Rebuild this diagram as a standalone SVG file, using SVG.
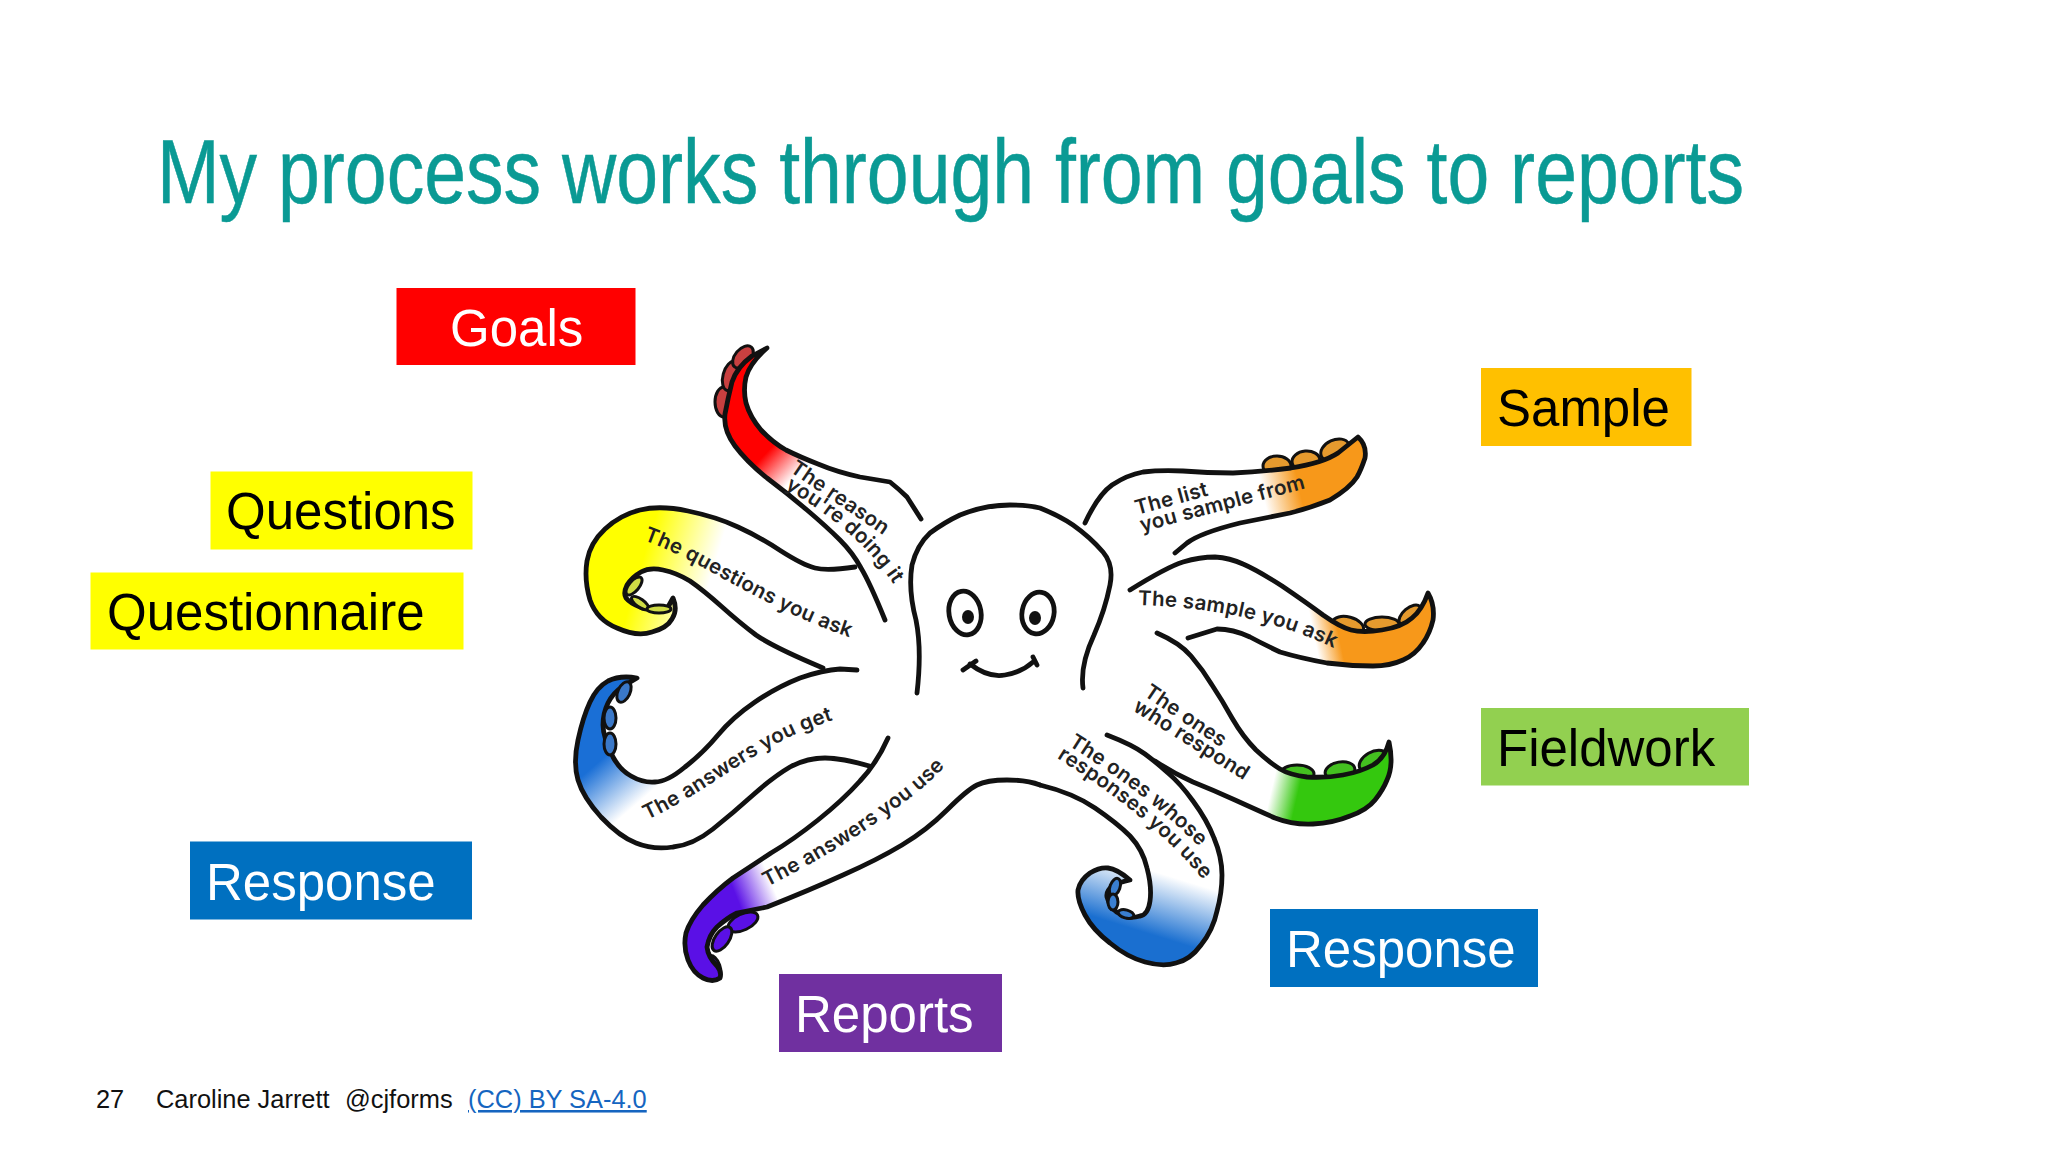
<svg xmlns="http://www.w3.org/2000/svg" width="2048" height="1152" viewBox="0 0 2048 1152">
<style>
.line{stroke:#111;stroke-width:4.8;stroke-linecap:round;stroke-linejoin:round}
.sk{stroke:#111;stroke-width:3}
.t{font-family:"Inter","Open Sans",sans-serif;font-weight:600;font-size:20.5px;letter-spacing:.3px;fill:#222}
.lb{font-family:"Liberation Sans",Arial,sans-serif;font-size:51px}
.w{fill:#fff}.k{fill:#000}
.ft{font-family:"Liberation Sans",Arial,sans-serif;font-size:25.4px;fill:#111}
</style>
<defs>
<linearGradient id="gr" gradientUnits="userSpaceOnUse" x1="758" y1="448" x2="792" y2="480"><stop offset=".2" stop-color="#f00"/><stop offset="1" stop-color="#fff"/></linearGradient>
<linearGradient id="gy" gradientUnits="userSpaceOnUse" x1="650" y1="535" x2="718" y2="555"><stop offset="0" stop-color="#ff0"/><stop offset="1" stop-color="#fff"/></linearGradient>
<linearGradient id="gb1" gradientUnits="userSpaceOnUse" x1="595" y1="765" x2="632" y2="808"><stop offset="0" stop-color="#1a6fd6"/><stop offset="1" stop-color="#fff"/></linearGradient>
<linearGradient id="gp" gradientUnits="userSpaceOnUse" x1="733" y1="900" x2="772" y2="884"><stop offset=".1" stop-color="#5a10e6"/><stop offset="1" stop-color="#fff"/></linearGradient>
<linearGradient id="gb2" gradientUnits="userSpaceOnUse" x1="1162" y1="945" x2="1182" y2="880"><stop offset=".1" stop-color="#1a6fd0"/><stop offset="1" stop-color="#fff"/></linearGradient>
<linearGradient id="gg" gradientUnits="userSpaceOnUse" x1="1270" y1="796" x2="1296" y2="802"><stop offset="0" stop-color="#fff"/><stop offset="1" stop-color="#34c80e"/></linearGradient>
<linearGradient id="go1" gradientUnits="userSpaceOnUse" x1="1262" y1="490" x2="1298" y2="482"><stop offset="0" stop-color="#fff"/><stop offset="1" stop-color="#f7981a"/></linearGradient>
<linearGradient id="go2" gradientUnits="userSpaceOnUse" x1="1318" y1="655" x2="1342" y2="650"><stop offset="0" stop-color="#fff"/><stop offset="1" stop-color="#f7981a"/></linearGradient>
<path id="p1" d="M789,471 L905,550"/>
<path id="p2" d="M785,488 C820,510 860,535 892,582 L905,602"/>
<path id="p3" d="M643,540 C680,553 710,572 733,584 C770,604 810,625 855,639 L890,648"/>
<path id="p4" d="M1137,515 L1240,487"/>
<path id="p5" d="M1142,532 L1340,479"/>
<path id="p6" d="M1138,605 C1190,607 1260,612 1345,653 L1375,670"/>
<path id="p7" d="M1143,695 L1245,764"/>
<path id="p8" d="M1132,710 L1275,800"/>
<path id="p9" d="M1068,745 C1115,775 1165,810 1208,856 L1230,880"/>
<path id="p10" d="M1057,758 C1095,782 1160,825 1210,888 L1230,914"/>
<path id="p11" d="M647,820 C690,800 730,770 760,753 C785,738 810,727 840,718 L870,710"/>
<path id="p12" d="M767,887 C810,865 850,842 880,820 C905,802 930,785 952,758 L972,733"/>
</defs>
<rect width="2048" height="1152" fill="#fff"/>
<text x="157" y="203" font-family="'Liberation Sans',Arial,sans-serif" font-size="90" fill="#0a9a94" stroke="#0a9a94" stroke-width=".5" textLength="1587" lengthAdjust="spacingAndGlyphs">My process works through from goals to reports</text>
<g id="octopus">
<g id="tentacle-goals">
<ellipse class="sk" cx="724" cy="402" rx="9" ry="15" fill="#c84040"/><ellipse class="sk" cx="731" cy="376" rx="8" ry="15" transform="rotate(15 731 376)" fill="#c84040"/><ellipse class="sk" cx="743" cy="357" rx="8" ry="13" transform="rotate(40 743 357)" fill="#c84040"/>
<path class="line" fill="url(#gr)" d="M885,620 Q870,583 861,568 Q853,553 840,540 Q827,527 807,510 Q787,493 767,478 Q747,462 735,446 Q723,430 725,414 Q728,398 732,382 Q737,367 752,356 L767,348 Q750,363 746,377 Q743,390 746,403 Q750,417 761,430 Q773,443 786,450 Q800,457 818,464 Q837,472 860,477 L890,482 Q900,490 907,497 L921,519"/>
</g>
<g id="tentacle-questions">
<path class="line" fill="url(#gy)" d="M855,567 Q827,571 815,568 Q803,565 781,551 Q760,537 738,527 Q717,517 688,511 Q660,505 640,510 Q620,515 605,529 Q590,543 587,561 Q584,580 590,600 Q597,620 617,628 Q637,637 652,632 Q667,628 672,619 Q678,610 673,598 L668,607 Q650,612 640,607 Q630,603 626,598 Q623,593 627,585 Q632,577 641,572 Q650,567 663,570 Q677,573 690,581 Q703,590 721,606 Q740,623 756,635 Q773,647 823,668"/>
<ellipse class="sk" cx="634" cy="586" rx="11" ry="5" transform="rotate(-50 634 586)" fill="#cfdc45"/><ellipse class="sk" cx="640" cy="603" rx="10" ry="4" transform="rotate(35 640 603)" fill="#cfdc45"/><ellipse class="sk" cx="659" cy="609" rx="12" ry="4" fill="#cfdc45"/>
</g>
<g id="tentacle-response-left">
<path class="line" fill="url(#gb1)" d="M857,670 L840,669 Q823,670 800,678 Q777,687 755,702 Q733,717 718,735 Q703,753 685,767 Q667,782 655,782 Q643,783 631,776 Q620,770 613,757 Q603,737 603,725 Q603,713 608,703 Q613,693 622,687 L637,678 Q620,675 608,681 Q597,687 590,702 Q583,717 578,740 Q573,763 578,780 Q583,797 601,817 Q620,837 636,843 Q653,850 673,847 Q693,845 713,829 Q733,813 753,795 Q773,777 790,767 Q807,758 825,758 Q843,758 876,768"/>
<ellipse class="sk" cx="610" cy="744" rx="6" ry="11" fill="#3a78c8"/><ellipse class="sk" cx="610" cy="718" rx="6" ry="11" fill="#3a78c8"/><ellipse class="sk" cx="624" cy="692" rx="6" ry="11" transform="rotate(25 624 692)" fill="#3a78c8"/>
</g>
<g id="tentacle-reports">
<ellipse class="sk" cx="743" cy="922" rx="16" ry="8" transform="rotate(-25 743 922)" fill="#5a10e6"/><ellipse class="sk" cx="722" cy="939" rx="14" ry="7" transform="rotate(-55 722 939)" fill="#5a10e6"/><ellipse class="sk" cx="714" cy="967" rx="12" ry="6" transform="rotate(70 714 967)" fill="#5a10e6"/>
<path class="line" fill="url(#gp)" d="M888,738 Q877,763 860,781 Q843,800 818,820 Q793,840 771,853 Q750,867 733,878 Q717,890 703,905 Q690,920 686,933 Q683,947 688,960 Q693,973 703,978 Q713,983 720,978 Q722,972 717,966 Q708,957 707,947 Q709,935 717,927 Q727,918 737,913 L767,907 Q810,890 843,875 Q877,860 902,845 Q927,830 947,810 Q967,790 977,785 Q987,780 1007,780 Q1027,780 1040,785"/>
</g>
<g id="tentacle-fieldwork">
<ellipse class="sk" cx="1297" cy="774" rx="17" ry="9" fill="#44c020"/><ellipse class="sk" cx="1340" cy="771" rx="15" ry="9" transform="rotate(-10 1340 771)" fill="#44c020"/><ellipse class="sk" cx="1373" cy="761" rx="15" ry="9" transform="rotate(-30 1373 761)" fill="#44c020"/>
<path class="line" fill="url(#gg)" d="M1157,633 Q1180,643 1191,656 Q1203,670 1212,685 Q1222,700 1232,718 Q1243,737 1256,750 Q1270,763 1280,769 Q1290,775 1307,777 Q1327,778 1343,775 Q1360,772 1373,765 Q1385,758 1389,742 Q1394,765 1387,780 Q1383,790 1375,800 Q1367,810 1350,816 Q1333,823 1313,824 Q1293,825 1275,818 Q1257,810 1235,800 Q1213,790 1193,782 Q1173,773 1155,761"/>
</g>
<g id="tentacle-response-right">
<path class="line" fill="url(#gb2)" d="M1040,785 Q1073,793 1095,808 Q1117,823 1130,836 Q1143,850 1147,868 Q1152,887 1150,901 Q1148,915 1140,916 Q1130,919 1122,915 Q1110,910 1107,897 Q1105,885 1130,880 Q1117,869 1108,868 Q1100,867 1090,873 Q1080,880 1078,890 Q1077,900 1085,915 Q1093,930 1110,943 Q1127,957 1145,962 Q1163,967 1176,963 Q1190,960 1201,945 Q1213,930 1217,911 Q1222,893 1222,875 Q1222,857 1214,838 Q1207,820 1193,801 Q1180,783 1168,773 Q1157,763 1145,754 Q1133,745 1107,735"/>
<ellipse class="sk" cx="1115" cy="887" rx="5" ry="9" transform="rotate(20 1115 887)" fill="#3a7fd0"/><ellipse class="sk" cx="1113" cy="902" rx="5" ry="8" fill="#3a7fd0"/><ellipse class="sk" cx="1126" cy="914" rx="8" ry="4" transform="rotate(15 1126 914)" fill="#3a7fd0"/>
</g>
<g id="tentacle-sample-list">
<ellipse class="sk" cx="1277" cy="466" rx="14" ry="10" fill="#e59a2e"/><ellipse class="sk" cx="1306" cy="461" rx="14" ry="10" transform="rotate(-5 1306 461)" fill="#e59a2e"/><ellipse class="sk" cx="1335" cy="450" rx="15" ry="10" transform="rotate(-25 1335 450)" fill="#e59a2e"/>
<path class="line" fill="url(#go1)" d="M1085,523 Q1098,495 1112,485 Q1127,475 1143,472 Q1160,470 1183,471 Q1207,473 1233,473 Q1260,472 1291,468 Q1323,463 1338,453 L1358,437 Q1367,445 1365,458 Q1361,470 1357,477 Q1350,488 1330,500 Q1310,508 1290,513 Q1265,518 1240,523 Q1200,533 1187,543 L1175,553"/>
</g>
<g id="tentacle-sample-ask">
<ellipse class="sk" cx="1348" cy="626" rx="16" ry="9" transform="rotate(15 1348 626)" fill="#e59a2e"/><ellipse class="sk" cx="1382" cy="624" rx="17" ry="7" fill="#e59a2e"/><ellipse class="sk" cx="1410" cy="615" rx="13" ry="7" transform="rotate(-40 1410 615)" fill="#e59a2e"/>
<path class="line" fill="url(#go2)" d="M1130,590 Q1167,567 1183,562 Q1200,557 1215,557 Q1230,558 1243,564 Q1257,570 1282,586 Q1307,603 1323,615 Q1340,627 1351,630 Q1363,633 1382,630 Q1402,627 1412,618 Q1422,610 1428,593 Q1435,605 1433,620 Q1430,633 1423,643 Q1415,655 1403,660 Q1390,666 1373,666 Q1350,666 1327,663 Q1300,658 1280,652 Q1265,645 1250,637 Q1233,629 1217,629 L1188,638"/>
</g>
<g id="body" fill="none">
<path class="line" d="M917,693 Q922,650 916,620 Q908,590 912,565 Q917,545 930,533 Q945,522 960,515 Q985,505 1010,505 Q1028,505 1040,508 Q1060,516 1073,525 Q1090,537 1103,552 Q1114,565 1110,585 Q1105,610 1094,635 Q1080,665 1083,688"/>
<ellipse class="line" cx="965" cy="613" rx="16" ry="22" transform="rotate(-10 965 613)"/>
<ellipse class="line" cx="1038" cy="613" rx="16" ry="21" transform="rotate(10 1038 613)"/>
<ellipse cx="968" cy="617" rx="6" ry="7" fill="#111"/><ellipse cx="1035" cy="618" rx="6" ry="7" fill="#111"/>
<path class="line" d="M963,670 L976,661 M970,664 Q988,678 1005,675 Q1022,672 1033,662 M1033,657 L1037,665"/>
</g>
<g id="tentacle-labels" class="t">
<text><textPath href="#p1">The reason</textPath></text>
<text><textPath href="#p2">you're doing it</textPath></text>
<text><textPath href="#p3">The questions you ask</textPath></text>
<text><textPath href="#p4">The list</textPath></text>
<text><textPath href="#p5">you sample from</textPath></text>
<text><textPath href="#p6">The sample you ask</textPath></text>
<text><textPath href="#p7">The ones</textPath></text>
<text><textPath href="#p8">who respond</textPath></text>
<text><textPath href="#p9">The ones whose</textPath></text>
<text><textPath href="#p10">responses you use</textPath></text>
<text><textPath href="#p11">The answers you get</textPath></text>
<text><textPath href="#p12">The answers you use</textPath></text>
</g>
</g>
<g id="goals"><rect x="396.500" y="288" width="239" height="77" fill="#f00"/><text class="lb w" x="450" y="346">Goals</text></g>
<g id="sample"><rect x="1481" y="368" width="210.500" height="78" fill="#ffc000"/><text class="lb k" x="1497" y="426">Sample</text></g>
<g id="questions"><rect x="210.500" y="471.500" width="262" height="78" fill="#ff0"/><text class="lb k" x="226" y="529">Questions</text></g>
<g id="questionnaire"><rect x="90.500" y="572.500" width="373" height="77" fill="#ff0"/><text class="lb k" x="107" y="630">Questionnaire</text></g>
<g id="fieldwork"><rect x="1481" y="708" width="268" height="77.500" fill="#92d050"/><text class="lb k" x="1497" y="766">Fieldwork</text></g>
<g id="response-left"><rect x="190" y="841.500" width="282" height="78" fill="#0070c0"/><text class="lb w" x="206" y="899.500">Response</text></g>
<g id="response-right"><rect x="1270" y="909" width="268" height="78" fill="#0070c0"/><text class="lb w" x="1286" y="967">Response</text></g>
<g id="reports"><rect x="779" y="974" width="223" height="78" fill="#7030a0"/><text class="lb w" x="795" y="1032">Reports</text></g>
<g id="footer">
<text class="ft" x="96" y="1108">27</text>
<text class="ft" x="156" y="1108">Caroline Jarrett</text>
<text class="ft" x="345" y="1108">@cjforms</text>
<text class="ft" x="468" y="1108" style="fill:#1565c0" text-decoration="underline">(CC) BY SA-4.0</text>
</g>
</svg>
